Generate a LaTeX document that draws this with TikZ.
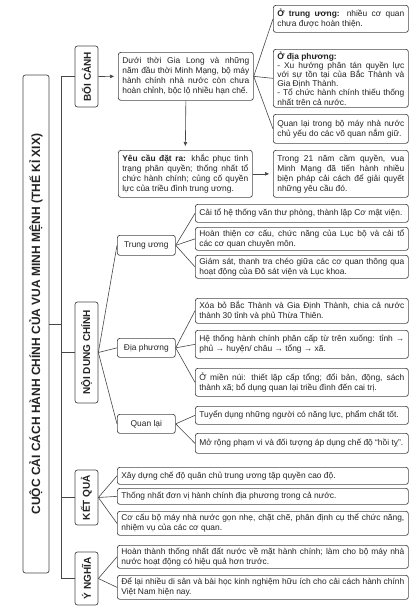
\documentclass[tikz,border=0pt]{standalone}
\usepackage{fontspec}
\setmainfont{Liberation Sans}
\usepackage{tikz}
\usetikzlibrary{arrows.meta}
\definecolor{edge}{RGB}{70,70,70}
\definecolor{ink}{RGB}{35,35,35}
\newcommand\fs{\fontsize{8.4}{10}\selectfont}
\hyphenpenalty=10000
\exhyphenpenalty=10000
\tolerance=9000
\tikzset{
  leaf/.style={draw=edge,rounded corners=2.5pt,line width=0.7pt,align=justify,font=\fs,text=ink,inner xsep=4pt,inner ysep=1pt,anchor=north west},
  mid/.style={draw=edge,rounded corners=2.5pt,line width=0.7pt,align=center,font=\fs,text=ink,minimum width=58pt,minimum height=20pt,inner sep=1pt,anchor=north west},
  br/.style={draw=edge,rounded corners=2.5pt,line width=0.7pt,rotate=90,font=\fontsize{10}{12}\selectfont\bfseries,text=ink,minimum height=23pt,inner sep=1pt},
  conn/.style={draw=edge,line width=0.6pt},
  arr/.style={conn,-{Triangle[length=4pt,width=3.5pt]},shorten >=4pt}
}
\begin{document}
\begin{tikzpicture}[x=1pt,y=-1pt]
\useasboundingbox (0,0) rectangle (417,608);
% title and branches
\node[br,font=\fontsize{12}{14}\selectfont\bfseries,minimum width=498pt,minimum height=26pt] (ttl) at (36,324) {CUỘC CẢI CÁCH HÀNH CHÍNH CỦA VUA MINH MỆNH (THẾ KỈ XIX)};
\node[br,minimum width=61pt] (boi) at (86.5,76.5) {BỐI CẢNH};
\node[br,minimum width=101pt] (nd) at (86.5,352.5) {NỘI DUNG CHÍNH};
\node[br,minimum width=55pt] (kq) at (86.5,497.5) {KẾT QUẢ};
\node[br,minimum width=53pt] (yn) at (86.5,578.5) {Ý NGHĨA};
\draw[conn] (boi.north) -- ++(-13,0) |- (yn.north);
\foreach \b in {nd,kq} \draw[conn] (\b.north) -- ++(-13,0);
\draw[conn] (ttl.south) -- ++(13,0);
% boi canh
\node[leaf,text width=127pt,minimum height=48pt] (duoi) at (118,52) {Dưới thời Gia Long và những\linebreak năm đầu thời Minh Mạng, bộ máy\linebreak hành chính nhà nước còn chưa\linebreak hoàn chỉnh, bộc lộ nhiều hạn chế.};
\node[leaf,text width=127pt,minimum height=27pt] (otw) at (273,5) {\textbf{Ở trung ương:} nhiều cơ quan\linebreak chưa được hoàn thiện.};
\node[leaf,text width=127pt,minimum height=58pt,font=\fontsize{8.4}{9.2}\selectfont] (odp) at (273,49) {\textbf{Ở địa phương:}\\- Xu hướng phân tán quyền lực\linebreak với sự tồn tại của Bắc Thành và\linebreak Gia Định Thành.\\- Tổ chức hành chính thiếu thống\linebreak nhất trên cả nước.};
\node[leaf,text width=127pt,minimum height=29pt] (ovq) at (273,114) {Quan lại trong bộ máy nhà nước\linebreak chủ yếu do các võ quan nắm giữ.};
\node[leaf,text width=126pt,minimum height=47pt] (yc) at (118,150) {\textbf{Yêu cầu đặt ra:} khắc phục tình\linebreak trạng phân quyền; thống nhất tổ\linebreak chức hành chính; củng cố quyền\linebreak lực của triều đình trung ương.};
\node[leaf,text width=127pt,minimum height=47pt] (tr21) at (273,150) {Trong 21 năm cầm quyền, vua\linebreak Minh Mạng đã tiến hành nhiều\linebreak biện pháp cải cách để giải quyết\linebreak những yêu cầu đó.};
\foreach \c in {otw,odp,ovq} \draw[conn] (duoi.east) -- (\c.west);
\draw[arr] (boi.south) -- (duoi.west);
\draw[arr] (duoi.south) -- (yc.north);
\draw[arr] (yc.east) -- (tr21.west);
% noi dung chinh
\node[mid] (tw) at (117,235) {Trung ương};
\node[mid,minimum height=19pt] (dp) at (117,338) {Địa phương};
\node[mid,minimum height=19pt] (ql) at (117,414) {Quan lại};
\node[leaf,text width=205pt,minimum height=18pt] (tw1) at (195,204) {Cải tổ hệ thống văn thư phòng, thành lập Cơ mật viện.};
\node[leaf,text width=205pt,minimum height=23pt] (tw2) at (195,227) {Hoàn thiện cơ cấu, chức năng của Lục bộ và cải tổ\linebreak các cơ quan chuyên môn.};
\node[leaf,text width=205pt,minimum height=23pt] (tw3) at (195,255) {Giám sát, thanh tra chéo giữa các cơ quan thông qua\linebreak hoạt động của Đô sát viện và Lục khoa.};
\node[leaf,text width=205pt,minimum height=25pt] (dp1) at (195,298) {Xóa bỏ Bắc Thành và Gia Định Thành, chia cả nước\linebreak thành 30 tỉnh và phủ Thừa Thiên.};
\node[leaf,text width=205pt,minimum height=28pt] (dp2) at (195,330) {Hệ thống hành chính phân cấp từ trên xuống: tỉnh →\linebreak phủ → huyện/ châu → tổng → xã.};
\node[leaf,text width=205pt,minimum height=28pt] (dp3) at (195,368) {Ở miền núi: thiết lập cấp tổng; đổi bản, động, sách\linebreak thành xã; bổ dụng quan lại triều đình đến cai trị.};
\node[leaf,text width=205pt,minimum height=18pt] (ql1) at (195,406) {Tuyển dụng những người có năng lực, phẩm chất tốt.};
\node[leaf,text width=205pt,minimum height=20pt] (ql2) at (195,433) {Mở rộng phạm vi và đối tượng áp dụng chế độ “hồi tỵ”.};
\foreach \c in {tw,dp,ql} \draw[conn] (nd.south) -- (\c.west);
\foreach \c in {tw1,tw2,tw3} \draw[conn] (tw.east) -- (\c.west);
\foreach \c in {dp1,dp2,dp3} \draw[conn] (dp.east) -- (\c.west);
\foreach \c in {ql1,ql2} \draw[conn] (ql.east) -- (\c.west);
% ket qua, y nghia
\node[leaf,text width=283pt,minimum height=17pt] (kq1) at (117,467) {Xây dựng chế độ quân chủ trung ương tập quyền cao độ.};
\node[leaf,text width=283pt,minimum height=16pt] (kq2) at (117,488) {Thống nhất đơn vị hành chính địa phương trong cả nước.};
\node[leaf,text width=283pt,minimum height=24pt] (kq3) at (117,511) {Cơ cấu bộ máy nhà nước gọn nhẹ, chặt chẽ, phân định cụ thể chức năng,\linebreak nhiệm vụ của các cơ quan.};
\node[leaf,text width=283pt,minimum height=23pt] (yn1) at (117,545) {Hoàn thành thống nhất đất nước về mặt hành chính; làm cho bộ máy nhà\linebreak nước hoạt động có hiệu quả hơn trước.};
\node[leaf,text width=283pt,minimum height=24pt] (yn2) at (117,575) {Để lại nhiều di sản và bài học kinh nghiệm hữu ích cho cải cách hành chính\linebreak Việt Nam hiện nay.};
\foreach \c in {kq1,kq2,kq3} \draw[conn] (kq.south) -- (\c.west);
\foreach \c in {yn1,yn2} \draw[conn] (yn.south) -- (\c.west);
\end{tikzpicture}
\end{document}
